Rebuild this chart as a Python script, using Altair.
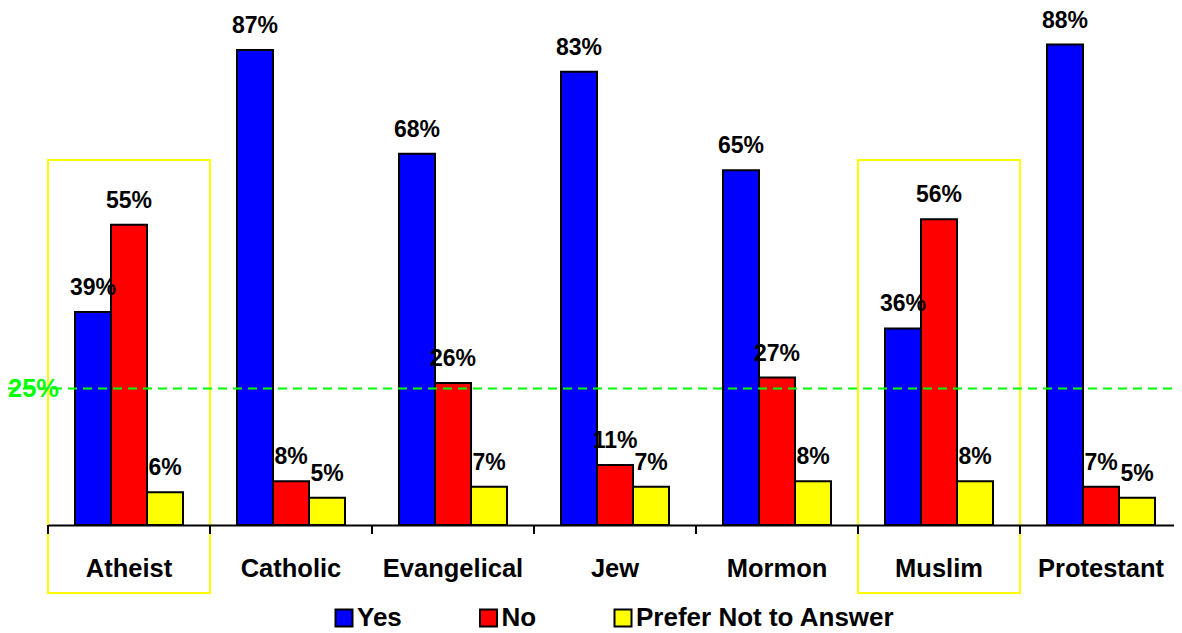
import altair as alt
import pandas as pd

categories = ["Atheist", "Catholic", "Evangelical", "Jew", "Mormon", "Muslim", "Protestant"]
series = ["Yes", "No", "Prefer Not to Answer"]
yes_vals = [39, 87, 68, 83, 65, 36, 88]
no_vals = [55, 8, 26, 11, 27, 56, 7]
prefer_vals = [6, 5, 7, 7, 8, 8, 5]
colors = ["#0000FF", "#FF0000", "#FFFF00"]
highlighted = ["Atheist", "Muslim"]
threshold = [25]

rows = []
for s, vals in zip(series, [yes_vals, no_vals, prefer_vals]):
    for c, v in zip(categories, vals):
        rows.append({"category": c, "series": s, "value": v, "label": f"{v}%"})
df = pd.DataFrame(rows)
cat_df = pd.DataFrame({"category": categories})
hl_df = pd.DataFrame({"category": highlighted})
th_df = pd.DataFrame({"t": threshold, "label": [f"{t}%" for t in threshold]})

FONT = "Liberation Sans"
W, H = 1134, 517

xscale = alt.Scale(domain=categories, paddingInner=0, paddingOuter=0)
yscale = alt.Scale(domain=[0, 94.7])
xoff = alt.XOffset("series:N", sort=series,
                   scale=alt.Scale(domain=series, paddingInner=0, paddingOuter=0.75))

x_axis = alt.Axis(title=None, labelFont=FONT, labelFontSize=25.5, labelFontWeight="bold",
                  labelColor="black", ticks=False, tickSize=0, labelPadding=31,
                  domainColor="black", domainWidth=2, labelAngle=0, grid=False)

boxes = alt.Chart(hl_df).mark_rect(fill="transparent", stroke="#FFFF00", strokeWidth=2).encode(
    x=alt.X("category:N", sort=categories, scale=xscale, axis=x_axis),
    y=alt.value(152),
    y2=alt.value(585),
)

bars = alt.Chart(df).mark_bar(stroke="black", strokeWidth=2).encode(
    x=alt.X("category:N", sort=categories, scale=xscale, axis=x_axis),
    xOffset=xoff,
    y=alt.Y("value:Q", scale=yscale, axis=None),
    color=alt.Color("series:N", sort=series,
                    scale=alt.Scale(domain=series, range=colors),
                    legend=alt.Legend(title=None, orient="none", legendX=283, legendY=597,
                                      direction="horizontal", symbolType="square",
                                      symbolSize=289, symbolStrokeColor="black",
                                      symbolStrokeWidth=2, labelFont=FONT,
                                      labelFontSize=26, labelFontWeight="bold",
                                      labelColor="black", columnPadding=73.5,
                                      labelOffset=0, padding=0, labelLimit=600)),
)

line = alt.Chart(th_df).mark_rule(color="#00FF00", strokeDash=[9, 6], strokeWidth=2).encode(
    y=alt.Y("t:Q", scale=yscale, axis=None),
    x=alt.value(-40),
    x2=alt.value(1128),
)

line_label = alt.Chart(th_df).mark_text(align="left", baseline="middle", font=FONT,
                                        fontSize=25.5, fontWeight="bold", color="#00FF00").encode(
    y=alt.Y("t:Q", scale=yscale, axis=None),
    x=alt.value(-40),
    text="label:N",
)

labels = alt.Chart(df).mark_text(font=FONT, fontSize=23, fontWeight="bold", color="black",
                                 baseline="alphabetic", dy=-17).encode(
    x=alt.X("category:N", sort=categories, scale=xscale, axis=x_axis),
    xOffset=xoff,
    y=alt.Y("value:Q", scale=yscale, axis=None),
    text="label:N",
)

ticks = alt.Chart(cat_df).mark_rule(color="black", strokeWidth=2).encode(
    x=alt.X("category:N", sort=categories, scale=xscale, axis=x_axis, bandPosition=0),
    y=alt.value(H),
    y2=alt.value(H + 9),
)

chart = alt.layer(boxes, bars, line, line_label, labels, ticks).properties(
    width=W, height=H,
    autosize=alt.AutoSizeParams(type="none"),
    padding={"left": 40, "top": 0, "right": -8, "bottom": 108},
).configure(background="white").configure_view(stroke=None)

chart.save("out.html", embed_options={"renderer": "svg", "actions": False})
